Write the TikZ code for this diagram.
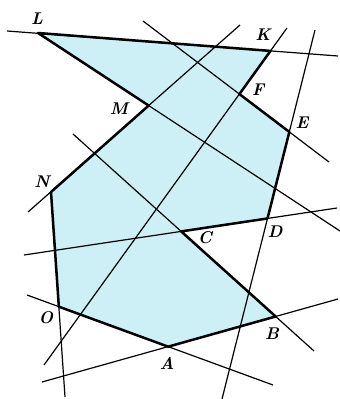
\documentclass[tikz,border=0pt]{standalone}
\definecolor{cyanfill}{RGB}{204,240,246}
\begin{document}
\begin{tikzpicture}[x=1pt, y=-1pt,
  thinline/.style={line width=1.2pt},
  thickline/.style={line width=2.5pt, line join=round},
  vlabel/.style={font=\fontsize{17}{20}\selectfont\bfseries\itshape}]
\useasboundingbox (0,0) rectangle (340,399);

% ends of the lines
\coordinate (LKa) at (7,31);    \coordinate (LKb) at (338,56);
\coordinate (LMb) at (340,231);
\coordinate (FEa) at (143,21);  \coordinate (FEb) at (329,162);
\coordinate (KFa) at (287,28);  \coordinate (KFb) at (44,365);
\coordinate (NMa) at (28,212);  \coordinate (NMb) at (240,25);
\coordinate (EDa) at (315,30);  \coordinate (EDb) at (222,399);
\coordinate (DCa) at (24,255);  \coordinate (DCb) at (337,208);
\coordinate (CBa) at (73,134);  \coordinate (CBb) at (314,351);
\coordinate (BAa) at (42,382);  \coordinate (BAb) at (338,299);
\coordinate (OAa) at (27,295);  \coordinate (OAb) at (273,385);
\coordinate (NOb) at (65,397);

% vertices
\coordinate (L) at (38,33);
\coordinate (N) at (51,192);
\coordinate (K) at (intersection of LKa--LKb and KFa--KFb);
\coordinate (F) at (intersection of KFa--KFb and FEa--FEb);
\coordinate (E) at (intersection of FEa--FEb and EDa--EDb);
\coordinate (D) at (intersection of EDa--EDb and DCa--DCb);
\coordinate (C) at (intersection of DCa--DCb and CBa--CBb);
\coordinate (B) at (intersection of CBa--CBb and BAa--BAb);
\coordinate (A) at (intersection of BAa--BAb and OAa--OAb);
\coordinate (O) at (intersection of OAa--OAb and N--NOb);
\coordinate (M) at (intersection of L--LMb and NMa--NMb);

\fill[cyanfill] (L) -- (K) -- (F) -- (E) -- (D) -- (C) -- (B) -- (A) -- (O) -- (N) -- (M) -- cycle;

\draw[thinline] (LKa) -- (LKb);
\draw[thinline] (L) -- (LMb);
\draw[thinline] (FEa) -- (FEb);
\draw[thinline] (KFa) -- (KFb);
\draw[thinline] (NMa) -- (NMb);
\draw[thinline] (EDa) -- (EDb);
\draw[thinline] (DCa) -- (DCb);
\draw[thinline] (CBa) -- (CBb);
\draw[thinline] (BAa) -- (BAb);
\draw[thinline] (OAa) -- (OAb);
\draw[thinline] (N) -- (NOb);

\draw[thickline] (L) -- (K) -- (F) -- (E) -- (D) -- (C) -- (B) -- (A) -- (O) -- (N) -- (M) -- cycle;

\node[vlabel] (lL) at (37,19) {L};
\node[vlabel] (lK) at (263,35) {K};
\node[vlabel] (lF) at (258,90) {F};
\node[vlabel] (lE) at (302,123) {E};
\node[vlabel] (lM) at (119,109) {M};
\node[vlabel] (lN) at (42,182) {N};
\node[vlabel] (lC) at (205,238) {C};
\node[vlabel] (lD) at (275,232) {D};
\node[vlabel] (lB) at (272,334) {B};
\node[vlabel] (lA) at (167,363) {A};
\node[vlabel] (lO) at (46,318) {O};
\end{tikzpicture}
\end{document}
